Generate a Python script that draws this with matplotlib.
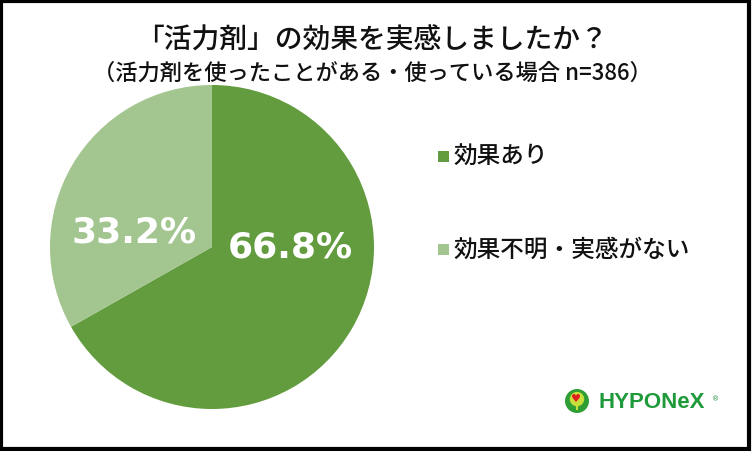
import matplotlib
matplotlib.use("Agg")
import matplotlib.pyplot as plt
from matplotlib.patches import Rectangle, Circle

plt.rcParams['font.family'] = ['Noto Sans CJK JP', 'DejaVu Sans']

title = "「活力剤」の効果を実感しましたか？"
subtitle = "（活力剤を使ったことがある・使っている場合 n=386）"
categories = ["効果あり", "効果不明・実感がない"]
values = [66.8, 33.2]
colors = ["#639c3f", "#a3c58f"]

W, H = 752, 452
fig = plt.figure(figsize=(W/100, H/100), dpi=100)
fig.patch.set_facecolor("white")

# pie axes: center (212,248), radius 162
cx, cy, r = 212, 248, 162
ax = fig.add_axes([(cx - r)/W, 1 - (cy + r)/H, 2*r/W, 2*r/H])
wedges, _ = ax.pie(values, colors=colors, startangle=90, counterclock=False,
                   radius=1.0, wedgeprops=dict(linewidth=0))
ax.set_xlim(-1, 1)
ax.set_ylim(-1, 1)
ax.set_aspect('auto')
ax.axis('off')

lab_pos = [(290, 248), (134, 233)]
for v, (px, py) in zip(values, lab_pos):
    fig.text(px/W, 1 - py/H, f"{v:.1f}%", color="white", fontsize=26,
             fontweight="bold", family=["DejaVu Sans"],
             ha="center", va="center")

fig.text(372/W, 1 - 40/H, title, fontsize=20, ha="center", va="center",
         color="#111111", fontweight="medium")
fig.text(372/W, 1 - 73/H, subtitle, fontsize=16, ha="center", va="center",
         color="#111111", fontweight="medium")

# legend
leg_y = [157, 250]
for cat, col, ly in zip(categories, colors, leg_y):
    fig.patches.append(Rectangle((438/W, 1 - (ly + 6)/H), 11/W, 11/H,
                                 transform=fig.transFigure, facecolor=col, edgecolor="none"))
    fig.text(453/W, 1 - ly/H, cat, fontsize=17, ha="left", va="center",
             color="#111111", fontweight="medium")

# logo icon
lax = fig.add_axes([565/W, 1 - 414/H, 24/W, 24/H])
lax.set_xlim(0, 1)
lax.set_ylim(0, 1)
lax.axis('off')
lax.add_patch(Circle((0.5, 0.5), 0.5, facecolor="#2f9e35", edgecolor="none"))
lax.add_patch(Circle((0.5, 0.58), 0.3, facecolor="#c9df3c", edgecolor="none"))
lax.add_patch(Rectangle((0.44, 0.12), 0.12, 0.3, facecolor="#c9df3c", edgecolor="none"))
lax.text(0.45, 0.62, "♥", fontsize=8, color="#e02020", ha="center", va="center",
         family=["DejaVu Sans"])

fig.text(599/W, 1 - 403/H, "HYPONeX", fontsize=16, fontweight="bold", color="#1f9a3a",
         ha="left", va="center",
         family=["Liberation Sans Narrow", "Liberation Sans", "DejaVu Sans"])
fig.text(712/W, 1 - 399/H, "®", fontsize=5, color="#1f9a3a", ha="left", va="center",
         family=["DejaVu Sans"])

# frame
fig.patches.append(Rectangle((1.5/W, 2/H), (W - 4.5)/W, (H - 3.5)/H, transform=fig.transFigure,
                             facecolor="none", edgecolor="black", linewidth=3))

fig.savefig("out.png", dpi=100, facecolor="white")
